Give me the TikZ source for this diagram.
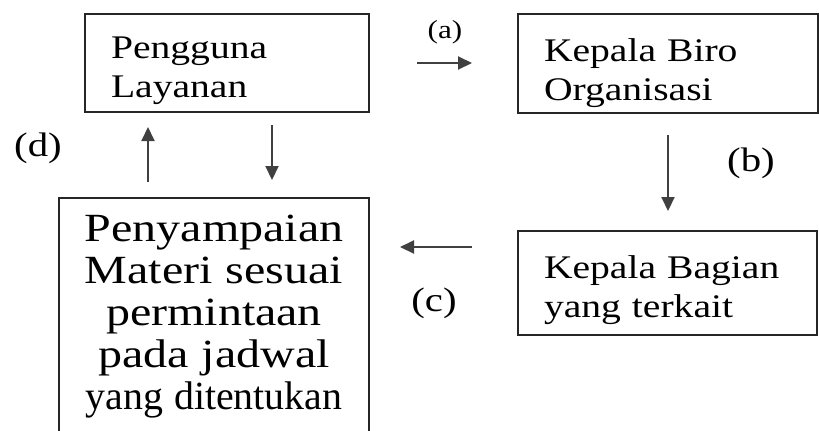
\documentclass[tikz,border=0pt]{standalone}
\usepackage{fontspec}
\usepackage{graphicx}
\setmainfont{Liberation Serif}[FakeStretch=1.2]
\usetikzlibrary{arrows.meta}
\begin{document}
\begin{tikzpicture}[x=0.5pt,y=-0.5pt,line width=1pt,
	box/.style={draw=black!85, anchor=north west, align=left, inner xsep=13pt, inner ysep=0pt, font=\fontsize{16.5}{19.5}\selectfont},
	lab/.style={inner sep=0pt, font=\fontsize{17}{17}\selectfont},
	flow/.style={draw=black!75, -{Triangle[width=6.5pt,length=7pt]}}]
	\clip (0,0) rectangle (819,430);
	\node (peng) at ( 84, 13)	[box, text width=116pt, text height=22pt, text depth=27pt]	{Pengguna\\Layanan};
	\node (biro) at (517, 13)	[box, text width=124pt, text height=23.5pt, text depth=26pt]	{Kepala Biro\\Organisasi};
	\node (bag)  at (517,230)	[box, text width=123.5pt, text height=23.5pt, text depth=28.5pt]	{Kepala Bagian\\yang terkait};
	\node (materi) at (58,197)	[box, align=center, inner xsep=5pt, text width=145pt, text height=21.5pt, text depth=102.5pt, font=\fontsize{20}{21}\selectfont]	{Penyampaian\\Materi sesuai\\permintaan\\pada jadwal\\\scalebox{0.83}[1]{yang ditentukan}};
	% arrow ends
	\coordinate (a1) at (417, 63);	\coordinate (a2) at (472, 63);
	\coordinate (b1) at (668,135);	\coordinate (b2) at (668,211);
	\coordinate (c1) at (472,247);	\coordinate (c2) at (400,247);
	\coordinate (d1) at (148,182);	\coordinate (d2) at (148,127);
	\coordinate (e1) at (272,125);	\coordinate (e2) at (272,180);
	\draw[flow] (a1) -- (a2);
	\draw[flow] (b1) -- (b2);
	\draw[flow] (c1) -- (c2);
	\draw[flow] (d1) -- (d2);
	\draw[flow] (e1) -- (e2);
	\node (la) at (445, 32)	[lab, font=\fontsize{13}{13}\selectfont]	{(a)};
	\node (lb) at (751,163)	[lab]	{(b)};
	\node (lc) at (434,303)	[lab]	{(c)};
	\node (ld) at ( 38,148)	[lab]	{(d)};
\end{tikzpicture}
\end{document}
